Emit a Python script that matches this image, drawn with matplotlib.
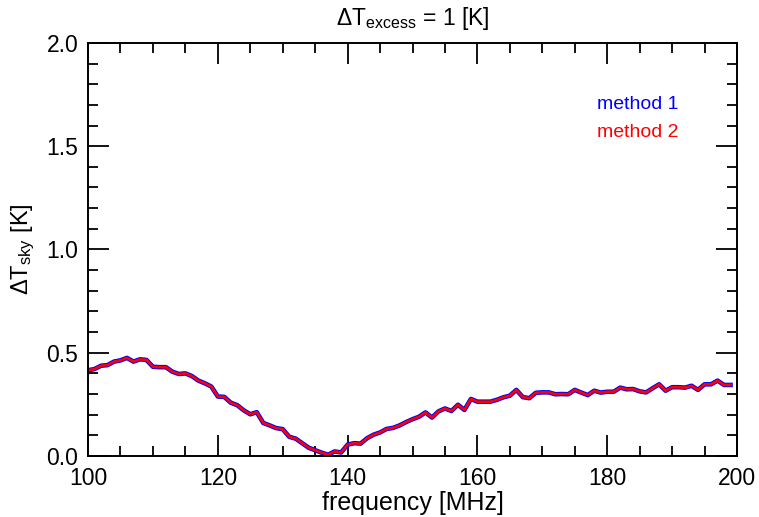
import numpy as np
import matplotlib
matplotlib.use('Agg')
import matplotlib.pyplot as plt

plt.rcParams['font.family'] = ['Liberation Sans', 'DejaVu Sans']
plt.rcParams['mathtext.fontset'] = 'custom'
plt.rcParams['mathtext.rm'] = 'Liberation Sans'
plt.rcParams['mathtext.it'] = 'Liberation Sans'

# frequency grid, 1 MHz steps
freq = np.arange(100, 200)

# Delta T_sky [K]
dtsky_m1 = [0.415, 0.421, 0.437, 0.440, 0.457, 0.463, 0.475, 0.457, 0.468, 0.465,
            0.432, 0.430, 0.430, 0.408, 0.397, 0.400, 0.387, 0.365, 0.352, 0.336,
            0.288, 0.286, 0.258, 0.246, 0.221, 0.202, 0.212, 0.160, 0.148, 0.135,
            0.130, 0.093, 0.084, 0.062, 0.040, 0.028, 0.016, 0.006, 0.022, 0.017,
            0.055, 0.062, 0.060, 0.086, 0.103, 0.114, 0.131, 0.136, 0.148, 0.164,
            0.178, 0.190, 0.211, 0.186, 0.216, 0.230, 0.218, 0.248, 0.223, 0.276,
            0.263, 0.263, 0.263, 0.272, 0.284, 0.292, 0.320, 0.285, 0.280, 0.306,
            0.308, 0.308, 0.299, 0.300, 0.299, 0.320, 0.307, 0.295, 0.316, 0.307,
            0.311, 0.311, 0.331, 0.323, 0.324, 0.313, 0.308, 0.328, 0.347, 0.316,
            0.333, 0.333, 0.331, 0.340, 0.320, 0.347, 0.347, 0.365, 0.344, 0.344]
# method 2 lies on top of method 1 to within a pixel
dtsky_m2 = list(dtsky_m1)

fig = plt.figure(figsize=(7.59, 5.17), dpi=100)
ax = fig.add_axes([0.116, 0.118, 0.855, 0.799])

ax.plot(freq, dtsky_m1, color='blue', lw=3.3)
ax.plot(freq, dtsky_m2, color='red', lw=1.9)

ax.set_xlim(100, 200)
ax.set_ylim(0, 2.0)
ax.set_xticks(np.arange(100, 201, 20))
ax.set_xticks(np.arange(100, 201, 5), minor=True)
ax.set_yticks(np.arange(0, 2.01, 0.5))
ax.set_yticks(np.arange(0, 2.01, 0.1), minor=True)
ax.set_yticklabels(['%.1f' % v for v in np.arange(0, 2.01, 0.5)])

ax.tick_params(which='both', direction='in', top=True, right=True, width=1.3,
               labelsize=16.5, color='black')
ax.tick_params(which='major', length=15)
ax.tick_params(which='minor', length=7.2)
ax.tick_params(axis='x', pad=8)
ax.tick_params(axis='y', pad=7)
for s in ax.spines.values():
    s.set_linewidth(1.4)

ax.set_xlabel('frequency [MHz]', fontsize=18, labelpad=1)
ax.set_ylabel(r'$\Delta$T$_{\mathrm{sky}}$ [K]', fontsize=17, labelpad=7)
ax.set_title(r'$\Delta$T$_{\mathrm{excess}}$ = 1 [K]', fontsize=16.5, pad=13)

ax.text(0.784, 0.85, 'method 1', color='blue', fontsize=14,
        transform=ax.transAxes, va='center', ha='left')
ax.text(0.784, 0.782, 'method 2', color='red', fontsize=14,
        transform=ax.transAxes, va='center', ha='left')

fig.savefig('out.png', dpi=100)
